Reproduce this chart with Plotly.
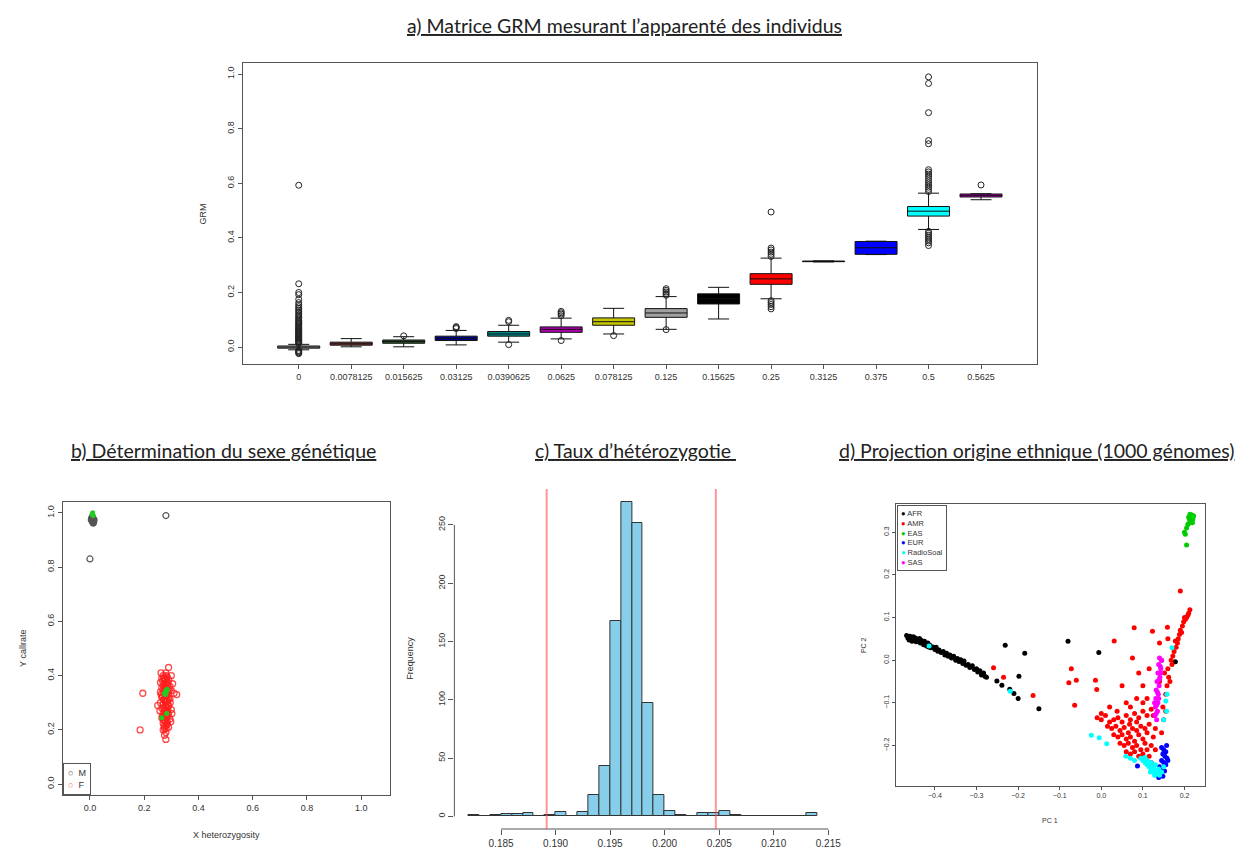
import plotly.graph_objects as go

# ---------------- Panel a: GRM boxplots ----------------
grm_labels = ["0", "0.0078125", "0.015625", "0.03125", "0.0390625", "0.0625", "0.078125",
              "0.125", "0.15625", "0.25", "0.3125", "0.375", "0.5", "0.5625"]
grm_q1 = [-0.004, 0.007, 0.014, 0.024, 0.040, 0.054, 0.080, 0.109, 0.158, 0.230, 0.313, 0.340, 0.480, 0.550]
grm_med = [0.0, 0.012, 0.020, 0.032, 0.048, 0.065, 0.093, 0.125, 0.177, 0.250, 0.314, 0.364, 0.498, 0.556]
grm_q3 = [0.004, 0.018, 0.026, 0.040, 0.057, 0.074, 0.107, 0.141, 0.195, 0.269, 0.315, 0.387, 0.515, 0.561]
grm_lo = [-0.010, 0.001, 0.001, 0.008, 0.018, 0.030, 0.048, 0.065, 0.103, 0.177, 0.312, 0.339, 0.431, 0.540]
grm_hi = [0.010, 0.031, 0.038, 0.061, 0.080, 0.106, 0.142, 0.185, 0.219, 0.326, 0.316, 0.388, 0.564, 0.562]
grm_outliers = [
    [-0.024, -0.021, -0.018, -0.015, -0.012, 0.013, 0.016, 0.019, 0.022, 0.025, 0.028, 0.031, 0.034,
     0.037, 0.040, 0.043, 0.047, 0.050, 0.053, 0.057, 0.060, 0.064, 0.067, 0.071, 0.074, 0.078,
     0.082, 0.086, 0.090, 0.094, 0.098, 0.103, 0.108, 0.113, 0.118, 0.124, 0.130, 0.136, 0.142,
     0.148, 0.155, 0.163, 0.175, 0.192, 0.200, 0.232, 0.593],
    [],
    [0.041],
    [0.068, 0.072, 0.075],
    [0.093, 0.098, 0.009],
    [0.115, 0.121, 0.126, 0.131, 0.024],
    [0.042],
    [0.190, 0.196, 0.202, 0.208, 0.214, 0.064],
    [],
    [0.332, 0.340, 0.348, 0.356, 0.363, 0.495, 0.170, 0.163, 0.156, 0.148, 0.140],
    [],
    [],
    [0.570, 0.578, 0.586, 0.594, 0.602, 0.610, 0.618, 0.626, 0.634, 0.642, 0.650, 0.745, 0.757,
     0.859, 0.966, 0.990, 0.424, 0.417, 0.410, 0.403, 0.396, 0.389, 0.382, 0.372],
    [0.594],
]
grm_colors = ["#BEBEBE", "#8B3A3A", "#2F5F2F", "#00008B", "#008B8B", "#B000B0", "#C5C500",
              "#A0A0A0", "#000000", "#FF0000", "#00CD00", "#0000FF", "#00FFFF", "#CC00CC"]

# ---------------- Panel b: sex determination ----------------
male_x = [0.0, 0.28, 0.005, 0.008, 0.010, 0.012, 0.015, 0.007, 0.011, 0.013, 0.009, 0.014, 0.006, 0.012,
          0.010, 0.013, 0.008, 0.011]
male_y = [0.83, 0.99, 0.975, 0.970, 0.968, 0.972, 0.975, 0.980, 0.965, 0.970, 0.985, 0.968, 0.978, 0.962,
          0.974, 0.966, 0.982, 0.977]
female_x = [0.270, 0.280, 0.290, 0.265, 0.285, 0.275, 0.290, 0.260, 0.280, 0.270, 0.295, 0.265, 0.285,
            0.275, 0.260, 0.300, 0.270, 0.290, 0.280, 0.265, 0.295, 0.275, 0.285, 0.260, 0.270, 0.290,
            0.280, 0.265, 0.300, 0.275, 0.285, 0.270, 0.290, 0.280, 0.265, 0.295, 0.275, 0.285, 0.270,
            0.280, 0.290, 0.275, 0.280, 0.275, 0.280, 0.195, 0.185, 0.320, 0.310, 0.250, 0.300, 0.262,
            0.305, 0.302, 0.258, 0.268, 0.283, 0.278, 0.272, 0.288, 0.296, 0.268, 0.282, 0.292, 0.262,
            0.284, 0.270, 0.298, 0.276, 0.286,
            0.272, 0.278, 0.284, 0.288, 0.274, 0.280, 0.286, 0.270, 0.276, 0.282, 0.290, 0.268, 0.274,
            0.280, 0.286, 0.278, 0.272, 0.284, 0.288, 0.276, 0.282, 0.270, 0.279, 0.285, 0.273, 0.281,
            0.287, 0.277, 0.283, 0.275]
female_y = [0.400, 0.410, 0.430, 0.390, 0.395, 0.380, 0.385, 0.375, 0.370, 0.365, 0.360, 0.355, 0.350,
            0.345, 0.340, 0.345, 0.335, 0.330, 0.325, 0.320, 0.315, 0.310, 0.305, 0.300, 0.295, 0.290,
            0.285, 0.280, 0.275, 0.270, 0.265, 0.260, 0.255, 0.250, 0.245, 0.240, 0.235, 0.230, 0.225,
            0.215, 0.210, 0.205, 0.190, 0.180, 0.165, 0.335, 0.200, 0.330, 0.335, 0.290, 0.400, 0.410,
            0.370, 0.260, 0.270, 0.250, 0.330, 0.360, 0.310, 0.280, 0.300, 0.380, 0.400, 0.345, 0.330,
            0.220, 0.200, 0.230, 0.390, 0.310,
            0.392, 0.386, 0.378, 0.366, 0.358, 0.352, 0.342, 0.348, 0.338, 0.328, 0.318, 0.322, 0.312,
            0.302, 0.296, 0.288, 0.278, 0.272, 0.262, 0.256, 0.246, 0.238, 0.232, 0.224, 0.214, 0.205,
            0.372, 0.306, 0.268, 0.248]
flag_x = [0.008, 0.010, 0.012, 0.275, 0.280, 0.285, 0.278, 0.282, 0.283, 0.265]
flag_y = [0.995, 1.000, 0.990, 0.335, 0.345, 0.350, 0.330, 0.340, 0.260, 0.245]
sex_legend = ["M", "F"]

# ---------------- Panel c: heterozygosity histogram ----------------
het_bin_start = [0.182, 0.183, 0.184, 0.185, 0.186, 0.187, 0.188, 0.189, 0.190, 0.191, 0.192, 0.193,
                 0.194, 0.195, 0.196, 0.197, 0.198, 0.199, 0.200, 0.201, 0.202, 0.203, 0.204, 0.205,
                 0.206, 0.207, 0.208, 0.209, 0.210, 0.211, 0.212, 0.213]
het_counts = [1, 0, 1, 2, 2, 3, 0, 1, 4, 0, 4, 18, 43, 168, 270, 252, 97, 18, 5, 1, 0, 3, 3, 5,
              1, 0, 0, 0, 0, 0, 0, 3]
het_thresholds = [0.18918, 0.20469]
het_xticks = [0.185, 0.190, 0.195, 0.200, 0.205, 0.210, 0.215]
het_yticks = [0, 50, 100, 150, 200, 250]

# ---------------- Panel d: PCA projection ----------------
pop_names = ["AFR", "AMR", "EAS", "EUR", "RadioSoal", "SAS"]
afr_pc1 = [-0.468, -0.465, -0.462, -0.460, -0.457, -0.455, -0.452, -0.450, -0.447, -0.445, -0.442,
           -0.440, -0.437, -0.435, -0.432, -0.430, -0.427, -0.425, -0.422, -0.420, -0.417, -0.415,
           -0.412, -0.410, -0.405, -0.400, -0.397, -0.393, -0.390, -0.385, -0.380, -0.376, -0.372,
           -0.368, -0.364, -0.360, -0.355, -0.350, -0.346, -0.342, -0.338, -0.333, -0.330, -0.325,
           -0.320, -0.316, -0.310, -0.305, -0.300, -0.297, -0.292, -0.288, -0.283, -0.280, -0.276,
           -0.231, -0.184, -0.080, -0.006, -0.198, -0.251, -0.239, -0.220, -0.200, -0.210, -0.150, 0.178]
afr_pc2 = [0.058, 0.052, 0.047, 0.056, 0.050, 0.044, 0.055, 0.048, 0.052, 0.043, 0.049, 0.045, 0.051,
           0.040, 0.046, 0.042, 0.036, 0.044, 0.038, 0.033, 0.040, 0.031, 0.035, 0.029, 0.031, 0.025,
           0.030, 0.021, 0.024, 0.018, 0.020, 0.012, 0.016, 0.009, 0.012, 0.005, 0.009, 0.000, 0.004,
           -0.003, 0.001, -0.008, -0.002, -0.012, -0.010, -0.017, -0.013, -0.022, -0.020, -0.028,
           -0.025, -0.035, -0.030, -0.038, -0.040,
           0.035, 0.016, 0.044, 0.018, -0.038, -0.049, -0.059, -0.068, -0.090, -0.078, -0.114, -0.004]
amr_pc1 = [-0.259, -0.235, -0.164, -0.072, -0.078, -0.060, -0.064, -0.014, -0.011, 0.031, 0.079, 0.075,
           0.123, 0.159, 0.190, 0.050, 0.060, 0.090, 0.100, 0.115, 0.140, 0.160,
           -0.010, 0.000, 0.010, 0.020, 0.030, 0.040, 0.050, 0.060, 0.070, 0.080, 0.090, 0.100, 0.110,
           0.120, 0.015, 0.025, 0.035, 0.045, 0.055, 0.065, 0.075, 0.085, 0.095, 0.105, 0.115, 0.030,
           0.040, 0.050, 0.060, 0.070, 0.080, 0.090, 0.100, 0.110, 0.045, 0.055, 0.065, 0.075, 0.085,
           0.095, 0.105, 0.060, 0.070, 0.080, 0.090, 0.100, 0.110, 0.120, 0.125, 0.130, 0.085, 0.068,
           0.038, 0.020, 0.000, 0.100, 0.085, 0.070, 0.110, 0.125, 0.130, 0.115, 0.120,
           0.145, 0.150, 0.148, 0.155, 0.158, 0.162, 0.160, 0.168, 0.172, 0.175, 0.180, 0.178, 0.185,
           0.188, 0.190, 0.195, 0.198, 0.202, 0.205, 0.208, 0.210, 0.213, 0.200, 0.193, 0.183, 0.170,
           0.165, 0.155, 0.152, 0.145, 0.140]
amr_pc2 = [-0.018, -0.040, -0.083, -0.020, -0.053, -0.047, -0.106, -0.047, -0.069, 0.045, 0.076, 0.005,
           0.068, 0.077, 0.162, -0.060, -0.100, -0.030, -0.060, -0.020, 0.040, 0.050,
           -0.135, -0.140, -0.130, -0.145, -0.140, -0.135, -0.145, -0.130, -0.140, -0.125, -0.135,
           -0.120, -0.130, -0.115, -0.155, -0.160, -0.155, -0.165, -0.158, -0.170, -0.160, -0.165,
           -0.155, -0.160, -0.150, -0.175, -0.180, -0.175, -0.185, -0.180, -0.190, -0.175, -0.185,
           -0.170, -0.195, -0.200, -0.195, -0.205, -0.200, -0.210, -0.195, -0.215, -0.220, -0.215,
           -0.225, -0.220, -0.210, -0.200, -0.180, -0.160, -0.145, -0.150, -0.120, -0.110, -0.125,
           -0.100, -0.090, -0.110, -0.090, -0.130, -0.210, -0.225, -0.240,
           -0.170, -0.140, -0.110, -0.080, -0.060, -0.040, -0.020, 0.000, 0.010, 0.020, 0.030, 0.045,
           0.050, 0.060, 0.070, 0.080, 0.090, 0.095, 0.100, 0.105, 0.110, 0.118, 0.100, 0.065, 0.040,
           -0.010, -0.050, -0.120, -0.030, 0.000, -0.050]
eas_pc1 = [0.205, 0.210, 0.212, 0.215, 0.218, 0.220, 0.215, 0.210, 0.222, 0.208, 0.213, 0.219, 0.202,
           0.200, 0.205]
eas_pc2 = [0.310, 0.320, 0.330, 0.335, 0.340, 0.330, 0.325, 0.335, 0.338, 0.318, 0.342, 0.322, 0.295,
           0.300, 0.270]
eur_pc1 = [0.145, 0.150, 0.155, 0.148, 0.153, 0.158, 0.145, 0.150, 0.155, 0.140, 0.147, 0.152, 0.135,
           0.142, 0.148, 0.130, 0.138, 0.087, 0.157, 0.160]
eur_pc2 = [-0.205, -0.210, -0.215, -0.220, -0.225, -0.230, -0.235, -0.240, -0.245, -0.250, -0.255,
           -0.260, -0.262, -0.268, -0.272, -0.265, -0.275, -0.248, -0.200, -0.235]
rad_pc1 = [0.095, 0.100, 0.105, 0.110, 0.115, 0.120, 0.125, 0.130, 0.135, 0.140, 0.120, 0.125, 0.130,
           0.110, 0.118, 0.128, 0.145, 0.150, 0.105, 0.138,
           -0.024, -0.005, 0.013, 0.059, 0.070, 0.080, -0.414, -0.219, 0.155, 0.157, 0.170, 0.158, 0.150]
rad_pc2 = [-0.230, -0.235, -0.240, -0.245, -0.250, -0.255, -0.260, -0.258, -0.265, -0.270, -0.240,
           -0.250, -0.245, -0.235, -0.262, -0.270, -0.262, -0.250, -0.228, -0.255,
           -0.176, -0.182, -0.196, -0.225, -0.230, -0.235, 0.033, -0.073, -0.096, -0.120, 0.029,
           -0.080, -0.140]
sas_pc1 = [0.140, 0.145, 0.138, 0.143, 0.136, 0.141, 0.134, 0.139, 0.132, 0.137, 0.131, 0.136, 0.130,
           0.135, 0.129, 0.133, 0.142, 0.140, 0.135, 0.133, 0.132, 0.138, 0.143, 0.128]
sas_pc2 = [0.005, 0.000, -0.010, -0.020, -0.030, -0.040, -0.050, -0.060, -0.070, -0.080, -0.090,
           -0.100, -0.110, -0.120, -0.130, -0.140, -0.015, -0.045, -0.075, -0.105, -0.125, -0.090,
           -0.030, -0.100]

W, H = 1243, 850
TXT = "#333333"
AX = "#555555"
fig = go.Figure()

# Panel a traces
for i, lab in enumerate(grm_labels):
    pos = i + 1
    fig.add_trace(go.Box(
        x=[pos], q1=[grm_q1[i]], median=[grm_med[i]], q3=[grm_q3[i]],
        lowerfence=[grm_lo[i]], upperfence=[grm_hi[i]],
        width=0.8, whiskerwidth=0.5, fillcolor=grm_colors[i],
        line=dict(color="#111111", width=1), boxpoints=False,
        xaxis="x", yaxis="y", showlegend=False, name=lab))
    if grm_outliers[i]:
        fig.add_trace(go.Scatter(
            x=[pos] * len(grm_outliers[i]), y=grm_outliers[i], mode="markers",
            marker=dict(symbol="circle-open", size=6, color="#222222", line=dict(width=1)),
            xaxis="x", yaxis="y", showlegend=False))

# Panel b traces
sex_colors = ["#555555", "rgba(255,30,30,0.8)"]
fig.add_trace(go.Scatter(x=male_x, y=male_y, mode="markers", name=sex_legend[0], showlegend=False,
                         marker=dict(symbol="circle-open", size=6, color=sex_colors[0], line=dict(width=1.2)),
                         xaxis="x2", yaxis="y2"))
fig.add_trace(go.Scatter(x=female_x, y=female_y, mode="markers", name=sex_legend[1], showlegend=False,
                         marker=dict(symbol="circle-open", size=6, color=sex_colors[1], line=dict(width=1.3)),
                         xaxis="x2", yaxis="y2"))
fig.add_trace(go.Scatter(x=flag_x, y=flag_y, mode="markers", showlegend=False,
                         marker=dict(symbol="circle", size=5, color="#22CC22"),
                         xaxis="x2", yaxis="y2"))

# Panel c traces
fig.add_trace(go.Bar(x=het_bin_start, y=het_counts, offset=0, width=0.001,
                     marker=dict(color="#87CEEB", line=dict(color="#333333", width=1)),
                     xaxis="x3", yaxis="y3", showlegend=False))

# Panel d traces
pop_colors = ["#000000", "#FF0000", "#00CC00", "#0000FF", "#00FFFF", "#FF00FF"]
pop_x = [afr_pc1, amr_pc1, eas_pc1, eur_pc1, rad_pc1, sas_pc1]
pop_y = [afr_pc2, amr_pc2, eas_pc2, eur_pc2, rad_pc2, sas_pc2]
for nm, xs, ys, col in zip(pop_names, pop_x, pop_y, pop_colors):
    fig.add_trace(go.Scatter(x=xs, y=ys, mode="markers", name=nm, showlegend=False,
                             marker=dict(symbol="circle", size=5, color=col),
                             xaxis="x4", yaxis="y4"))

def px(x):
    return x / W

def py(y):
    return 1 - y / H

FONT = "Liberation Sans, Arial, sans-serif"
tickfont = dict(family=FONT, size=9, color=TXT)
tickfont_s = dict(family=FONT, size=7, color=TXT)

def frame_axis(**kw):
    d = dict(showline=True, mirror=True, linecolor=AX, linewidth=1, ticks="outside", ticklen=4,
             tickcolor=AX, showgrid=False, zeroline=False, tickfont=tickfont)
    d.update(kw)
    return d

layout = dict(
    width=W, height=H, margin=dict(l=0, r=0, t=0, b=0), showlegend=False,
    paper_bgcolor="white", plot_bgcolor="white", boxmode="overlay", bargap=0,
    xaxis=frame_axis(domain=[px(237), px(1037)], range=[-0.06, 15.06],
                     tickvals=list(range(1, len(grm_labels) + 1)), ticktext=grm_labels, anchor="y"),
    yaxis=frame_axis(domain=[py(356), py(55)], range=[-0.062, 1.041],
                     tickvals=[0, 0.2, 0.4, 0.6, 0.8, 1.0], tickformat=".1f", tickangle=-90, anchor="x"),
    xaxis2=frame_axis(domain=[px(55), px(385)], range=[-0.101, 1.106],
                      tickvals=[0, 0.2, 0.4, 0.6, 0.8, 1.0], tickformat=".1f", anchor="y2"),
    yaxis2=frame_axis(domain=[py(787), py(494)], range=[-0.04, 1.04],
                      tickvals=[0, 0.2, 0.4, 0.6, 0.8, 1.0], tickformat=".1f", tickangle=-90, anchor="x2"),
    xaxis3=dict(domain=[px(450), px(830)], range=[0.18072, 0.21528], showline=False, showgrid=False,
                zeroline=False, ticks="outside", ticklen=5, tickcolor=AX, tickvals=het_xticks,
                tickformat=".3f", tickfont=dict(family=FONT, size=10, color=TXT), anchor="y3"),
    yaxis3=dict(domain=[py(821), py(481)], range=[-10.8, 280.8], showline=False, showgrid=False,
                zeroline=False, ticks="outside", ticklen=5, tickcolor=AX, tickvals=het_yticks,
                tickangle=-90, tickfont=tickfont, anchor="x3"),
    xaxis4=frame_axis(domain=[px(895), px(1207)], range=[-0.494, 0.25],
                      tickvals=[-0.4, -0.3, -0.2, -0.1, 0.0, 0.1, 0.2], tickformat=".1f",
                      tickfont=tickfont_s, ticklen=3, anchor="y4"),
    yaxis4=frame_axis(domain=[py(778), py(496)], range=[-0.295, 0.366],
                      tickvals=[-0.2, -0.1, 0.0, 0.1, 0.2, 0.3], tickformat=".1f",
                      tickangle=-90, tickfont=tickfont_s, ticklen=3, anchor="x4"),
)
fig.update_layout(**layout)

# Titles
title_font = dict(family="Lato, Open Sans, sans-serif", size=19.5, color="#222222")
titles = [
    ("a) Matrice GRM mesurant l’apparenté des individus", 622, 18),
    ("b) Détermination du sexe génétique", 217, 442),
    ("c) Taux d’hétérozygotie ", 633, 442),
    ("d) Projection origine ethnique (1000 génomes)", 1037, 442),
]
for t, x, y in titles:
    fig.add_annotation(text=f"<u>{t}</u>", x=px(x), y=py(y), xref="paper", yref="paper",
                       showarrow=False, font=title_font, xanchor="center", yanchor="middle")

# Axis titles
lab_font = dict(family=FONT, size=9, color=TXT)
lab_font_s = dict(family=FONT, size=7, color=TXT)
axis_titles = [
    ("GRM", 197, 206, -90, lab_font),
    ("Y callrate", 15, 640, -90, lab_font),
    ("X heterozygosity", 220, 827, 0, lab_font),
    ("Frequency", 405, 650, -90, lab_font),
    ("PC 2", 862, 637, -90, lab_font_s),
    ("PC 1", 1050, 812, 0, lab_font_s),
]
for t, x, y, ang, f in axis_titles:
    fig.add_annotation(text=t, x=px(x), y=py(y), xref="paper", yref="paper", showarrow=False,
                       font=f, textangle=ang, xanchor="center", yanchor="middle")

# Legends (R-style boxes)
sex_leg_text = "<br>".join(f"<span style='color:{c}'>○</span>  {n}" for n, c in zip(sex_legend, sex_colors))
fig.add_annotation(text=sex_leg_text, x=px(55), y=py(787), xref="paper", yref="paper", showarrow=False,
                   xanchor="left", yanchor="bottom", align="left", bgcolor="white",
                   bordercolor=AX, borderwidth=1, borderpad=4,
                   font=dict(family=FONT, size=9, color=TXT))
pop_leg_text = "<br>".join(f"<span style='color:{c}'>●</span> {n}" for n, c in zip(pop_names, pop_colors))
fig.add_annotation(text=pop_leg_text, x=px(896), y=py(497), xref="paper", yref="paper", showarrow=False,
                   xanchor="left", yanchor="top", align="left", bgcolor="white",
                   bordercolor=AX, borderwidth=1, borderpad=3,
                   font=dict(family=FONT, size=7.5, color=TXT))

# Histogram axis lines (R style, spanning ticks only) and threshold lines
fig.add_shape(type="line", xref="x3", yref="y3 domain", x0=het_xticks[0], x1=het_xticks[-1], y0=0, y1=0,
              line=dict(color=AX, width=1))
fig.add_shape(type="line", xref="x3 domain", yref="y3", x0=0, x1=0, y0=het_yticks[0], y1=het_yticks[-1],
              line=dict(color=AX, width=1))
for thr in het_thresholds:
    fig.add_shape(type="line", xref="x3", yref="y3 domain", x0=thr, x1=thr, y0=0, y1=1,
                  line=dict(color="rgba(255,80,80,0.6)", width=2))

fig.write_html("out.html")
